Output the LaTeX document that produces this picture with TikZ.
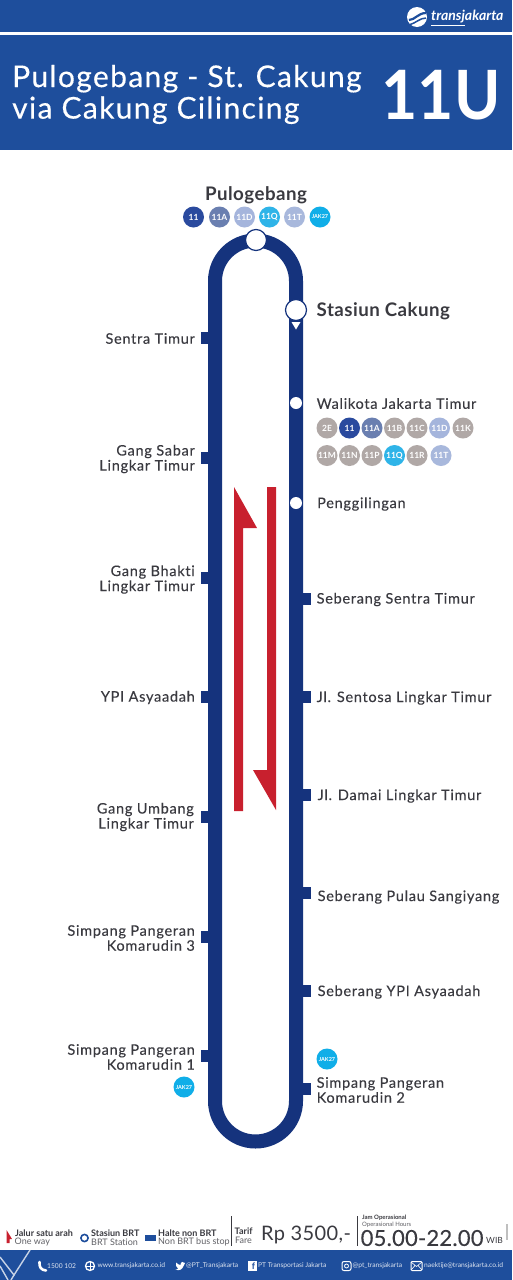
\documentclass[tikz,border=0pt]{standalone}
\usepackage{fontspec}
\setmainfont{Lato}[Ligatures=NoCommon]
\definecolor{hdr}{HTML}{1E4E9C}
\definecolor{track}{HTML}{15337D}
\definecolor{txt}{HTML}{3A3A40}
\definecolor{redarr}{HTML}{C8202E}
\definecolor{rc}{HTML}{2A4A9E}
\definecolor{ra}{HTML}{6A7FB0}
\definecolor{rd}{HTML}{A5B5DC}
\definecolor{rq}{HTML}{2FB4E8}
\definecolor{rt}{HTML}{A8B8DC}
\definecolor{rj}{HTML}{10AEE8}
\definecolor{rg}{HTML}{B0A8A6}
\tikzset{
 x=1pt,y=-1pt,
 lbl/.style={font=\fontsize{14.5}{15}\selectfont\addfontfeature{LetterSpace=5,FakeBold=0.15},text=txt,inner sep=0pt,align=left,yshift=-1pt},
 lblr/.style={lbl,anchor=east,align=right},
 lbll/.style={lbl,anchor=west},
 tickbox/.style={fill=track,draw=none,minimum width=8pt,minimum height=12pt,inner sep=0pt},
 bigstop/.style={circle,fill=white,draw=track,line width=1.2pt,minimum size=21pt,inner sep=0pt},
 smallstop/.style={circle,fill=white,draw=none,minimum size=12pt,inner sep=0pt},
 rb/.style={circle,fill=#1,text=white,minimum size=21pt,inner sep=0pt,font=\fontsize{8.5}{8.5}\bfseries\selectfont},
 rbt/.style={rb=#1,font=\fontsize{5.5}{6}\bfseries\selectfont},
 legb/.style={font=\fontsize{9}{9}\bfseries\selectfont,text=txt,inner sep=0pt,anchor=west},
 legn/.style={font=\fontsize{9}{9}\selectfont,text=txt!80,inner sep=0pt,anchor=west},
 foot/.style={font=\fontsize{6.7}{7}\selectfont,text=white!85!hdr,inner sep=0pt,anchor=west},
 sep/.style={draw=txt,line width=1pt},
 ico/.style={draw=white,line width=1pt,fill=none},
 stationhead/.style={font=\fontsize{18.7}{19}\bfseries\selectfont\addfontfeature{LetterSpace=2.5},text=txt,inner sep=0pt},
}
\begin{document}
\begin{tikzpicture}
\useasboundingbox (0,0) rectangle (512,1280);
\fill[white] (0,0) rectangle (512,1280);
% header
\fill[hdr] (0,0) rectangle (512,150);
\fill[white] (0,32) rectangle (512,34.5);
\node[font=\fontsize{30}{31.5}\selectfont\addfontfeature{LetterSpace=4.5,FakeBold=0.3},text=white,inner sep=0pt,anchor=west,align=left] (title) at (12,94.5) {Pulogebang - St. Cakung\\via Cakung Cilincing};
\node[font=\fontsize{68}{68}\bfseries\selectfont,text=white,inner sep=0pt] (code) at (441,95) {\scalebox{.92}[1]{11U}};
% logo
\fill[white] (417,17) circle (10);
\draw[hdr,line width=2.2pt] (409,20) .. controls (415,20) and (418,13) .. (426,13);
\draw[hdr,line width=1.5pt] (409,25) .. controls (416,23) and (420,18) .. (426,18);
\node[font=\fontsize{14}{14}\bfseries\itshape\selectfont,text=white,inner sep=0pt,anchor=west] (logo) at (431,16.5) {transjakarta};
\fill[white] (431,24.5) rectangle (465,25.3);
% track
\draw[track,line width=14pt] (215,281) arc[start angle=180,end angle=360,radius=40.5] -- (296,1101) arc[start angle=0,end angle=180,radius=40.5] -- cycle;
% ticks left
\foreach \n/\yy in {l1/338,l2/457.5,l3/577.5,l4/697,l5/816.5,l6/936.5,l7/1056}
  \node[tickbox] (\n) at (205,\yy) {};
% ticks right
\foreach \n/\yy in {r1/599,r2/697,r3/795,r4/893,r5/991,r6/1089}
  \node[tickbox] (\n) at (307,\yy) {};
% stops
\node[bigstop] (pg) at (256,240) {};
\node[bigstop] (sc) at (296,310) {};
\fill[white] (291.5,322) -- (300.5,322) -- (296,329.5) -- cycle;
\node[smallstop] (wk) at (296,403) {};
\node[smallstop] (pn) at (296,503) {};
% labels
\node[stationhead] (tpg) at (256,195) {Pulogebang};
\node[stationhead,anchor=west] (tsc) at (316.5,311.5) {Stasiun Cakung};
\node[lblr] at (195,337.5) {Sentra Timur};
\node[lblr] at (195,458) {Gang Sabar\\Lingkar Timur};
\node[lblr] at (195,578.5) {Gang Bhakti\\Lingkar Timur};
\node[lblr] at (195,696.5) {YPI Asyaadah};
\node[lblr] at (194,816) {Gang Umbang\\Lingkar Timur};
\node[lblr] at (195,937) {Simpang Pangeran\\Komarudin 3};
\node[lblr] at (195,1056) {Simpang Pangeran\\Komarudin 1};
\node[lbll] at (316.5,402.5) {Walikota Jakarta Timur};
\node[lbll] at (317,503) {Penggilingan};
\node[lbll] at (316.5,598.5) {Seberang Sentra Timur};
\node[lbll] at (316.5,697) {Jl. Sentosa Lingkar Timur};
\node[lbll] at (317.5,795) {Jl. Damai Lingkar Timur};
\node[lbll] at (317.5,896) {Seberang Pulau Sangiyang};
\node[lbll] at (317.5,991) {Seberang YPI Asyaadah};
\node[lbll] at (316.5,1089) {Simpang Pangeran\\Komarudin 2};
% route bullets
\node[rb=rc] at (193.5,217) {11};
\node[rb=ra] at (219.5,217) {11A};
\node[rb=rd] at (244.5,217) {11D};
\node[rb=rq] at (269.5,217) {11Q};
\node[rb=rt] at (294.5,217) {11T};
\node[rbt=rj] at (320,217) {JAK27};
\foreach \t/\c/\xx in {2E/rg/327,11/rc/349.5,11A/ra/372,11B/rg/394.5,11C/rg/417,11D/rd/439.5,11K/rg/463}
  \node[rb=\c] at (\xx,428) {\t};
\foreach \t/\c/\xx in {11M/rg/327,11N/rg/349.5,11P/rg/372,11Q/rq/394.5,11R/rg/417,11T/rt/441}
  \node[rb=\c] at (\xx,455.5) {\t};
\node[rbt=rj] at (327,1059) {JAK27};
\node[rbt=rj] at (184,1087) {JAK27};
% red arrows
\fill[redarr] (234,487) -- (257,528) -- (243,528) -- (243,811) -- (234,811) -- cycle;
\fill[redarr] (276,810) -- (253,770) -- (267,770) -- (267,487) -- (276,487) -- cycle;
% legend
\fill[redarr] (6.5,1230) -- (12,1239) -- (9.5,1239) -- (9.5,1243) -- (6.5,1243) -- cycle;
\node[legb] at (15,1233.5) {Jalur satu arah};
\node[legn] at (14.5,1241.5) {One way};
\draw[hdr,line width=1.6pt] (84.5,1238) circle (3.6);
\node[legb] at (91,1233.5) {Stasiun BRT};
\node[legn] at (91,1242) {BRT Station};
\fill[hdr] (145,1234.5) rectangle (156,1240.5);
\node[legb] at (158,1233) {Halte non BRT};
\node[legn] at (158,1242) {Non BRT bus stop};
\draw[sep] (231,1216) -- (231,1246);
\node[legb] at (234.5,1231) {Tarif};
\node[legn] at (235,1240) {Fare};
\node[font=\fontsize{20}{20}\selectfont\addfontfeature{LetterSpace=2},text=txt,inner sep=0pt,anchor=west] at (261,1235) {Rp 3500,-};
\draw[sep] (357,1216) -- (357,1246);
\node[font=\fontsize{6}{6}\bfseries\selectfont,text=txt,inner sep=0pt,anchor=west] at (362,1218) {Jam Operasional};
\node[font=\fontsize{6}{6}\selectfont,text=txt!80,inner sep=0pt,anchor=west] at (362,1225) {Operasional Hours};
\node[font=\fontsize{22}{22}\selectfont\addfontfeature{LetterSpace=1,FakeBold=0.15},text=txt,inner sep=0pt,anchor=west] at (360.5,1238) {05.00-22.00};
\node[font=\fontsize{8.5}{9}\selectfont,text=txt,inner sep=0pt,anchor=west] at (486,1240.5) {WIB};
\fill[black!25] (506,1224) rectangle (508,1240);
% footer
\fill[hdr] (0,1250) rectangle (512,1280);
\begin{scope}
\clip (0,1250) rectangle (512,1280);
\draw[white!75!hdr,line width=1.4pt] (0,1257) -- (14,1275) -- (30,1250);
\draw[white!75!hdr,line width=1.4pt] (0,1266) -- (8,1280);
\draw[white!75!hdr,line width=1.4pt] (14,1275) -- (11,1280);
\end{scope}
% phone
\draw[white,line width=2.6pt,line cap=round] (39.5,1262) .. controls (39,1267) and (41,1270) .. (46,1270.5);
\node[foot] at (47,1266) {1500 102};
% globe
\draw[white,line width=1.3pt] (90,1266) circle (4.5);
\draw[white,line width=.8pt] (85.5,1266) -- (94.5,1266) (90,1261.5) -- (90,1270.5);
\node[foot] at (97.5,1266) {www.transjakarta.co.id};
% bird
\fill[white] (176,1262.5) .. controls (178,1264.5) and (179.5,1265) .. (180.5,1265) .. controls (180.5,1261.5) and (183.5,1261) .. (185,1263) -- (183.5,1266) .. controls (182,1270) and (179,1271) .. (175.5,1269.5) .. controls (177,1269.5) and (178,1269) .. (178,1268.5) .. controls (176.5,1267.5) and (175.5,1265) .. (176,1262.5) -- cycle;
\node[foot] at (186,1266) {@PT\_Transjakarta};
% facebook
\fill[white] (248,1261) rectangle (257,1271);
\node[font=\fontsize{9}{9}\bfseries\selectfont,text=hdr,inner sep=0pt] at (253.5,1266.5) {f};
\node[foot] at (258,1266) {PT Transportasi Jakarta};
% instagram
\draw[ico,rounded corners=2pt] (342,1261.5) rectangle (351,1270.5);
\draw[white,line width=.8pt] (346.5,1266) circle (2);
\node[foot] at (352.5,1266) {@pt\_transjakarta};
% mail
\draw[ico,rounded corners=1pt] (411,1261.5) rectangle (422,1270.5);
\draw[white,line width=.6pt] (411,1262) -- (416.5,1266.5) -- (422,1262) (411,1270) -- (415,1265.5) (422,1270) -- (418,1265.5);
\node[foot] at (424,1266) {naektije@transjakarta.co.id};
\end{tikzpicture}
\end{document}
